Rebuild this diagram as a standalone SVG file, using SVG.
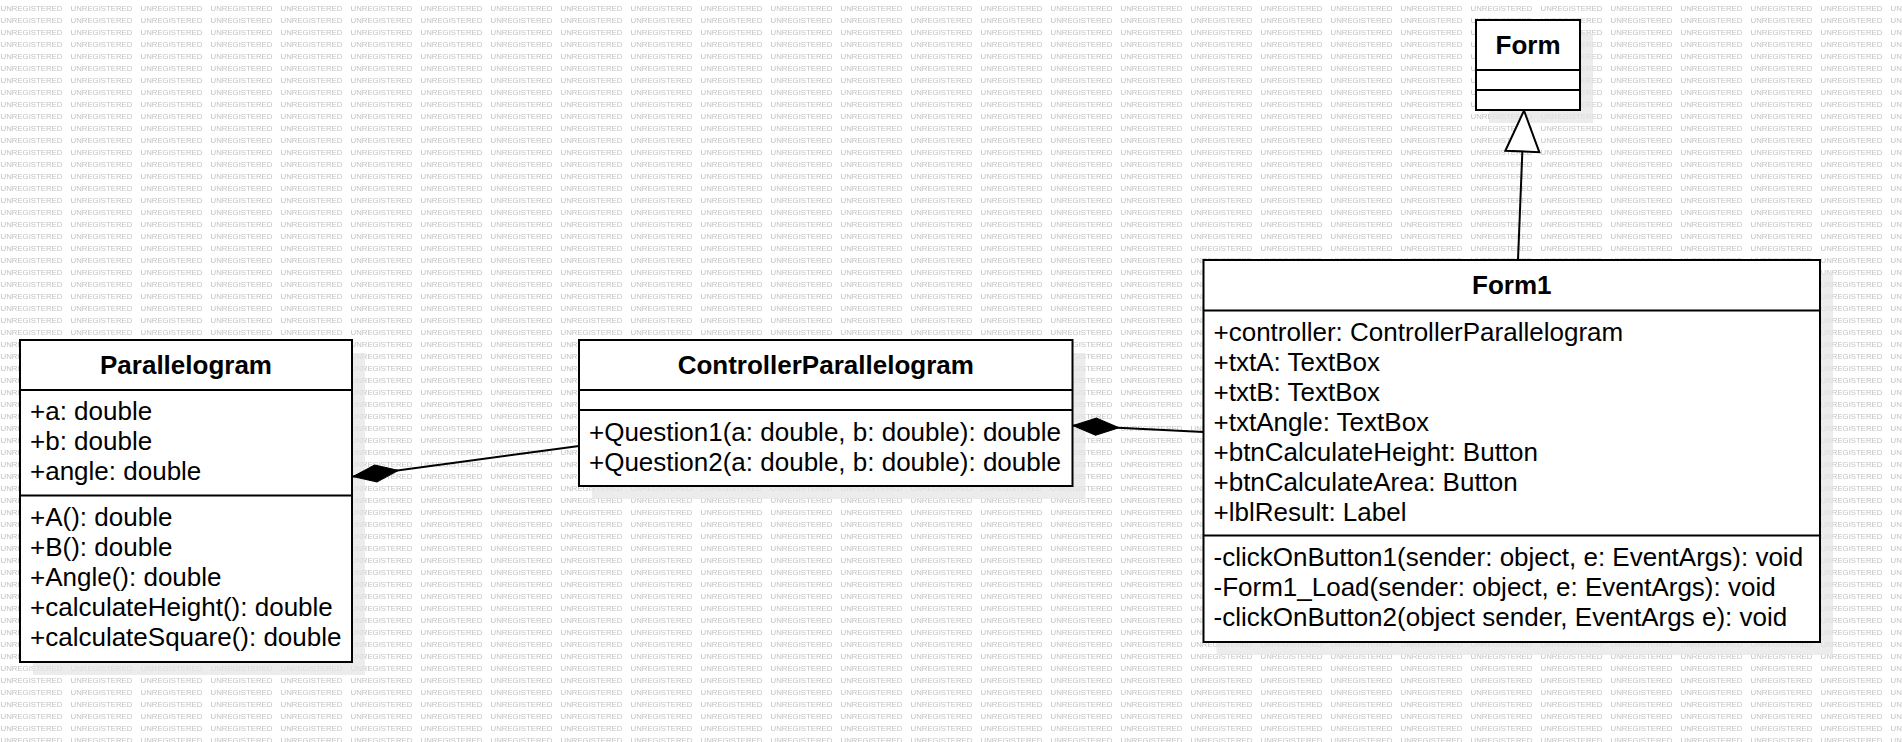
<svg xmlns="http://www.w3.org/2000/svg" width="1902" height="742" viewBox="0 0 1902 742">
  <style>
    .wm { font-family: "Liberation Sans", Arial, sans-serif; font-size: 7.8px; fill: #c2c2c2; }
    .box { fill: #ffffff; stroke: #000000; stroke-width: 2; }
    .shadow { fill: #e4e4e4; fill-opacity: 0.72; }
    .div { stroke: #000000; stroke-width: 2; }
    .title { font-family: "Liberation Sans", Arial, sans-serif; font-size: 26px; font-weight: bold; fill: #000000; text-anchor: middle; }
    .item { font-family: "Liberation Sans", Arial, sans-serif; font-size: 26px; fill: #000000; }
    .edge { fill: none; stroke: #000000; stroke-width: 2; }
  </style>
  <defs>
    <pattern id="wmPattern" patternUnits="userSpaceOnUse" x="0" y="0" width="70" height="12">
      <text class="wm" x="0.5" y="11">UNREGISTERED</text>
    </pattern>
    <marker id="composition" markerUnits="userSpaceOnUse" viewBox="0 0 46 17" refX="46" refY="8.5" markerWidth="46" markerHeight="17" orient="auto" overflow="visible">
      <path d="M0,8.5 L23,0 L46,8.5 L23,17 Z" fill="#000000" stroke="#000000" stroke-width="1"/>
    </marker>
    <marker id="generalization" markerUnits="userSpaceOnUse" viewBox="0 0 41 34" refX="41" refY="17" markerWidth="41" markerHeight="34" orient="auto" overflow="visible">
      <path d="M0,0 L41,17 L0,34 Z" fill="#ffffff" stroke="#000000" stroke-width="2"/>
    </marker>
  </defs>

  <rect x="0" y="0" width="1902" height="742" fill="#ffffff"/>
  <rect x="0" y="0" width="1902" height="742" fill="url(#wmPattern)"/>

  <g id="shadows">
    <rect class="shadow" x="1489" y="33" width="104" height="90"/>
    <rect class="shadow" x="1216.5" y="273" width="616.5" height="382"/>
    <rect class="shadow" x="33" y="353" width="332" height="322"/>
    <rect class="shadow" x="592" y="353" width="493.5" height="146"/>
  </g>

  <g id="connectors">
    <path id="edge-form1-form" class="edge" d="M1518,260 L1524,110.5" marker-end="url(#generalization)"/>
    <path id="edge-controller-parallelogram" class="edge" d="M579,446 L353,476.5" marker-end="url(#composition)"/>
    <path id="edge-form1-controller" class="edge" d="M1203.5,432 L1073,425.5" marker-end="url(#composition)"/>
  </g>

  <g id="node-form">
    <rect class="box" x="1476" y="20" width="104" height="90"/>
    <line class="div" x1="1476" y1="70" x2="1580" y2="70"/>
    <line class="div" x1="1476" y1="90" x2="1580" y2="90"/>
    <text class="title" x="1528" y="53.5">Form</text>
  </g>

  <g id="node-form1">
    <rect class="box" x="1203.5" y="260" width="616.5" height="382"/>
    <line class="div" x1="1203.5" y1="310.5" x2="1820" y2="310.5"/>
    <line class="div" x1="1203.5" y1="535.5" x2="1820" y2="535.5"/>
    <text class="title" x="1511.75" y="293.5">Form1</text>
    <text class="item" x="1213.5" y="340.5">+controller: ControllerParallelogram</text>
    <text class="item" x="1213.5" y="370.5">+txtA: TextBox</text>
    <text class="item" x="1213.5" y="400.5">+txtB: TextBox</text>
    <text class="item" x="1213.5" y="430.5">+txtAngle: TextBox</text>
    <text class="item" x="1213.5" y="460.5">+btnCalculateHeight: Button</text>
    <text class="item" x="1213.5" y="490.5">+btnCalculateArea: Button</text>
    <text class="item" x="1213.5" y="520.5">+lblResult: Label</text>
    <text class="item" x="1213.5" y="565.5">-clickOnButton1(sender: object, e: EventArgs): void</text>
    <text class="item" x="1213.5" y="595.5">-Form1_Load(sender: object, e: EventArgs): void</text>
    <text class="item" x="1213.5" y="625.5">-clickOnButton2(object sender, EventArgs e): void</text>
  </g>

  <g id="node-parallelogram">
    <rect class="box" x="20" y="340" width="332" height="322"/>
    <line class="div" x1="20" y1="390" x2="352" y2="390"/>
    <line class="div" x1="20" y1="495.5" x2="352" y2="495.5"/>
    <text class="title" x="186" y="374">Parallelogram</text>
    <text class="item" x="30" y="420">+a: double</text>
    <text class="item" x="30" y="450">+b: double</text>
    <text class="item" x="30" y="480">+angle: double</text>
    <text class="item" x="30" y="525.5">+A(): double</text>
    <text class="item" x="30" y="555.5">+B(): double</text>
    <text class="item" x="30" y="585.5">+Angle(): double</text>
    <text class="item" x="30" y="615.5">+calculateHeight(): double</text>
    <text class="item" x="30" y="645.5">+calculateSquare(): double</text>
  </g>

  <g id="node-controllerparallelogram">
    <rect class="box" x="579" y="340" width="493.5" height="146"/>
    <line class="div" x1="579" y1="390" x2="1072.5" y2="390"/>
    <line class="div" x1="579" y1="410" x2="1072.5" y2="410"/>
    <text class="title" x="825.75" y="373.5">ControllerParallelogram</text>
    <text class="item" x="589" y="440.5">+Question1(a: double, b: double): double</text>
    <text class="item" x="589" y="470.5">+Question2(a: double, b: double): double</text>
  </g>
</svg>
